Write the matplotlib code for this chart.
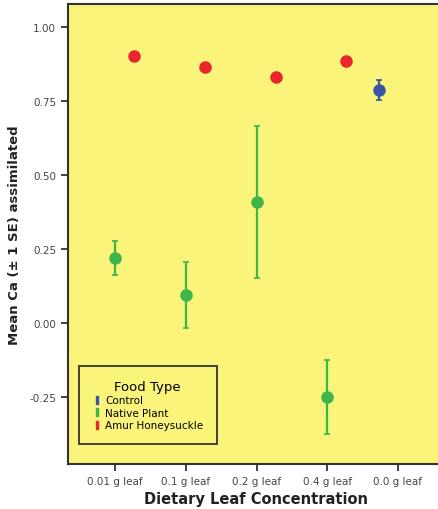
import numpy as np
import matplotlib
matplotlib.use("Agg")
import matplotlib.pyplot as plt
from matplotlib.lines import Line2D

# categories on the x axis
categorias = ["0.01 g leaf", "0.1 g leaf", "0.2 g leaf", "0.4 g leaf", "0.0 g leaf"]

# Native Plant (green) at first four categories
nativa_x = [0, 1, 2, 3]
nativa_media = [0.220, 0.095, 0.409, -0.250]
nativa_se = [0.058, 0.113, 0.257, 0.124]

# Amur Honeysuckle (red)
amur_x = [0, 1, 2, 3]
amur_media = [0.902, 0.865, 0.831, 0.885]
amur_se = [0.015, 0.012, 0.013, 0.011]

# Control (blue) at 0.0 g leaf
control_x = [4]
control_media = [0.787]
control_se = [0.033]

desplaz = 0.27

color_fondo = "#fbf47a"
rojo = "#e8262c"
verde = "#3cb54a"
azul = "#3a55a4"

fig = plt.figure(figsize=(4.39, 5.10), dpi=100)
ax = fig.add_axes([68/439, 45/510, 377/439, 460/510])
ax.set_facecolor(color_fondo)

estilo = dict(fmt="o", ms=8, elinewidth=1.6, capsize=2.5, capthick=1.2, zorder=3)
ax.errorbar(np.array(nativa_x), nativa_media, yerr=nativa_se, color=verde, **estilo)
ax.errorbar(np.array(amur_x) + desplaz, amur_media, yerr=amur_se, color=rojo, **estilo)
ax.errorbar(np.array(control_x) - desplaz, control_media, yerr=control_se, color=azul, **estilo)

ax.set_xlim(-0.665, 4.665)
ax.set_ylim(-0.476, 1.078)
ax.set_xticks(range(len(categorias)))
ax.set_xticklabels(categorias, fontsize=7.5, color="#444444")
ax.set_yticks([1.0, 0.75, 0.5, 0.25, 0.0, -0.25])
ax.set_yticklabels(["%.2f" % v for v in [1.0, 0.75, 0.5, 0.25, 0.0, -0.25]],
                   fontsize=7.5, color="#444444")
ax.tick_params(axis="both", direction="out", length=5, width=1.3, color="#333333")

for lado in ["left", "bottom", "top"]:
    ax.spines[lado].set_color("#333333")
    ax.spines[lado].set_linewidth(1.5)
ax.spines["right"].set_visible(False)

ax.set_xlabel("Dietary Leaf Concentration", fontsize=10.5, fontweight="bold",
              color="#222222", labelpad=4)
ax.set_ylabel("Mean Ca (\u00b1 1 SE) assimilated", fontsize=9.5, fontweight="bold",
              color="#222222", labelpad=6)

manejadores = [
    Line2D([], [], ls="none", marker=r"$\mathrm{I}$", color=azul, ms=6),
    Line2D([], [], ls="none", marker=r"$\mathrm{I}$", color=verde, ms=6),
    Line2D([], [], ls="none", marker=r"$\mathrm{I}$", color=rojo, ms=6),
]
leyenda = ax.legend(manejadores, ["Control", "Native Plant", "Amur Honeysuckle"],
                    title="Food Type", loc="lower left", bbox_to_anchor=(0.029, 0.0435),
                    borderaxespad=0, fontsize=7.5, title_fontsize=9.5, fancybox=False,
                    handlelength=0.8, handletextpad=0.4, labelspacing=0.25,
                    borderpad=1.3, frameon=True)
leyenda.get_frame().set_facecolor(color_fondo)
leyenda.get_frame().set_edgecolor("#333333")
leyenda.get_frame().set_linewidth(1.3)
leyenda.get_frame().set_alpha(1)

fig.savefig("out.png", dpi=100)
